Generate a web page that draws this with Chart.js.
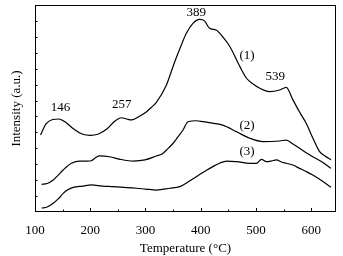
<!DOCTYPE html>
<html>
<head>
<meta charset="utf-8">
<script src="https://cdn.jsdelivr.net/npm/chart.js@4.4.0/dist/chart.umd.min.js"></script>
<style>
    body { margin: 0; background: #fff; }
    #wrap { width: 343px; height: 256px; }
</style>
</head>
<body>
<div id="wrap"><canvas id="tprChart" width="343" height="256"></canvas></div>
<script>
// temperatures (°C) and intensities (a.u.)
const temp1 = [110, 120, 132, 143, 155, 170, 185, 200, 215, 230, 245, 257, 266, 275, 290, 302, 310, 320, 338, 353, 365, 374, 386, 398, 407, 416, 428, 440, 453, 471, 483, 495, 507, 525, 543, 555, 567, 579, 591, 603, 615, 625, 636];
const curve1 = [4.84, 5.53, 5.81, 5.84, 5.65, 5.21, 4.90, 4.81, 4.90, 5.21, 5.72, 5.92, 5.84, 5.78, 6.03, 6.30, 6.55, 6.90, 7.98, 9.44, 10.49, 11.22, 11.85, 12.10, 12.00, 11.54, 11.43, 10.99, 10.38, 9.13, 8.40, 8.04, 7.77, 7.56, 7.66, 7.83, 7.04, 6.28, 5.57, 4.65, 3.81, 3.52, 3.29];

const temp2 = [112, 122, 133, 142, 151, 166, 181, 195, 202, 210, 217, 235, 254, 278, 299, 320, 330, 338, 349, 359, 368, 377, 392, 404, 416, 440, 465, 489, 513, 543, 555, 567, 579, 603, 620, 636];
const curve2 = [1.74, 1.79, 2.01, 2.32, 2.64, 3.06, 3.20, 3.20, 3.22, 3.42, 3.52, 3.47, 3.31, 3.20, 3.27, 3.52, 3.64, 3.89, 4.27, 4.73, 5.15, 5.67, 5.73, 5.68, 5.61, 5.46, 5.04, 4.63, 4.42, 4.46, 4.52, 4.27, 4.00, 3.47, 3.14, 2.74];

const temp3 = [112, 122, 133, 142, 151, 160, 169, 187, 202, 222, 242, 284, 300, 320, 344, 362, 377, 392, 407, 422, 435, 447, 465, 489, 501, 510, 519, 528, 537, 546, 555, 567, 579, 591, 603, 620, 636];
const curve3 = [0.25, 0.31, 0.55, 0.82, 1.17, 1.41, 1.55, 1.63, 1.70, 1.63, 1.59, 1.49, 1.44, 1.38, 1.49, 1.59, 1.88, 2.22, 2.54, 2.85, 3.08, 3.20, 3.16, 3.06, 3.06, 3.31, 3.16, 3.20, 3.27, 3.14, 3.06, 2.95, 2.74, 2.54, 2.32, 1.95, 1.55];

const xTicks = [100, 200, 300, 400, 500, 600];

// peak labels and curve names, placed at data coordinates
const noteText = ['146', '257', '389', '539', '(1)', '(2)', '(3)'];
const noteX = [146, 257, 392, 535, 484, 484, 484];
const noteY = [6.55, 6.75, 12.5, 8.5, 9.8, 5.4, 3.8];

function toPoints(xs, ys) {
    return xs.map((x, i) => ({ x: x, y: ys[i] }));
}

function makeSet(xs, ys) {
    return {
        data: toPoints(xs, ys),
        borderColor: '#000',
        borderWidth: 1.2,
        pointRadius: 0,
        cubicInterpolationMode: 'monotone',
        fill: false
    };
}

// frame + inward ticks + text notes
const framePlugin = {
    id: 'frame',
    afterDatasetsDraw(chart) {
        const ctx = chart.ctx;
        const a = chart.chartArea;
        const xs = chart.scales.x;
        const ys = chart.scales.y;
        ctx.save();
        ctx.strokeStyle = '#000';
        ctx.lineWidth = 1;
        ctx.strokeRect(a.left + 0.5, a.top + 0.5, a.right - a.left - 1, a.bottom - a.top - 1);
        ctx.beginPath();
        for (let v = 100; v <= 640; v += 50) {
            const px = Math.round(xs.getPixelForValue(v)) + 0.5;
            const len = (v % 100 === 0) ? 4 : 2.5;
            ctx.moveTo(px, a.bottom);
            ctx.lineTo(px, a.bottom - len);
        }
        for (let v = 1; v < 13; v++) {
            const py = Math.round(ys.getPixelForValue(v)) + 0.5;
            ctx.moveTo(a.left, py);
            ctx.lineTo(a.left + 2.5, py);
        }
        ctx.stroke();
        ctx.fillStyle = '#000';
        ctx.font = '13px "Liberation Serif"';
        ctx.textAlign = 'center';
        ctx.textBaseline = 'middle';
        for (let i = 0; i < noteText.length; i++) {
            ctx.fillText(noteText[i], xs.getPixelForValue(noteX[i]), ys.getPixelForValue(noteY[i]));
        }
        ctx.restore();
    }
};

function drawTprChart(DOMelement) {
    return new Chart(DOMelement, {
        type: 'line',
        data: {
            datasets: [makeSet(temp1, curve1), makeSet(temp2, curve2), makeSet(temp3, curve3)]
        },
        options: {
            responsive: false,
            animation: false,
            layout: { padding: { top: 5, right: 7, left: 0, bottom: 0 } },
            plugins: {
                legend: { display: false },
                tooltip: { enabled: false }
            },
            scales: {
                x: {
                    type: 'linear',
                    min: 100,
                    max: 645,
                    grid: { display: false },
                    border: { display: false },
                    afterBuildTicks: (scale) => {
                        scale.ticks = xTicks.map(v => ({ value: v }));
                    },
                    afterFit: (scale) => { scale.height = 44; },
                    ticks: {
                        color: '#000',
                        padding: 3,
                        font: { family: 'Liberation Serif', size: 13 }
                    },
                    title: {
                        display: true,
                        text: 'Temperature (°C)',
                        color: '#000',
                        padding: { top: 2, bottom: 0 },
                        font: { family: 'Liberation Serif', size: 13 }
                    }
                },
                y: {
                    min: 0,
                    max: 13,
                    grid: { display: false },
                    border: { display: false },
                    ticks: { display: false, stepSize: 1 },
                    afterFit: (scale) => { scale.width = 35; },
                    title: {
                        display: true,
                        text: 'Intensity (a.u.)',
                        color: '#000',
                        padding: { top: 9, bottom: 0 },
                        font: { family: 'Liberation Serif', size: 13 }
                    }
                }
            }
        },
        plugins: [framePlugin]
    });
}

drawTprChart(document.getElementById('tprChart'));
</script>
</body>
</html>
